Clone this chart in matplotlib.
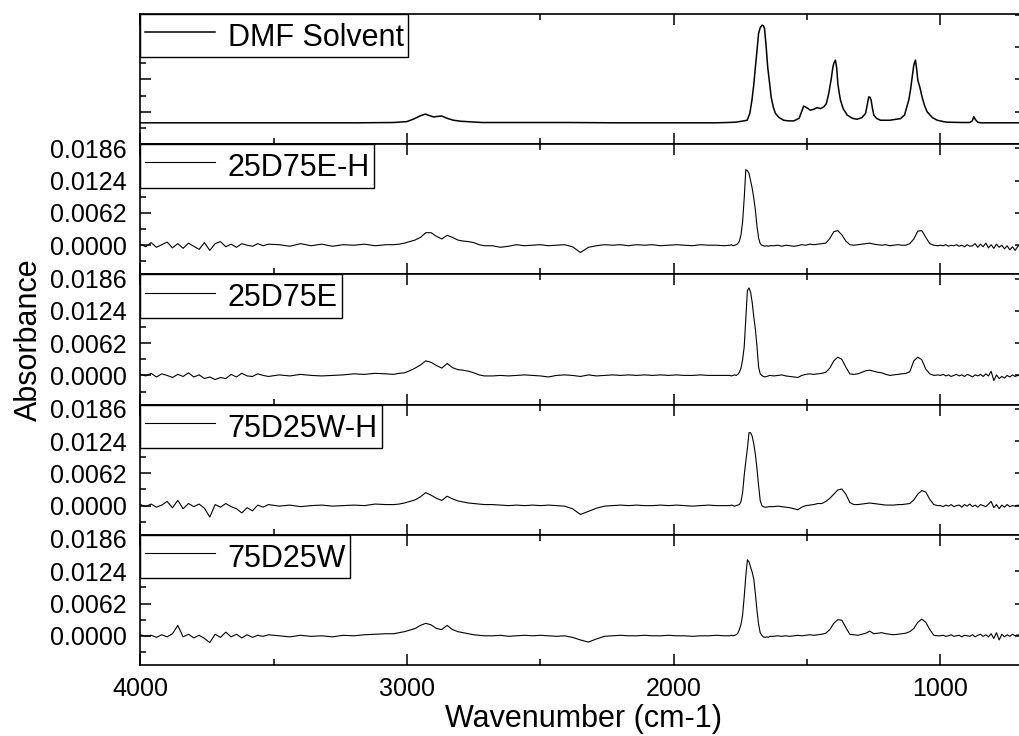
import numpy as np
import matplotlib
matplotlib.use("Agg")
import matplotlib.pyplot as plt
from matplotlib.ticker import MultipleLocator, FixedLocator

plt.rcParams['font.family'] = ['Liberation Sans', 'DejaVu Sans']

# Wavenumber sampling used for the four sample spectra: (start, stop, step) in cm-1
WN_SEGMENTS = [(4000, 3520, 20), (3480, 3080, 40), (3050, 2710, 20), (2680, 1810, 30),
               (1790, 1640, 6), (1625, 1010, 15), (1000, 700, 10)]

# Sample spectra, absorbance in units of 1e-4
ABS_25D75E_H = [
    2, -3, 5, -4, 1, 6, -5, 3, -6, 4, -2, -8, 5, -10, 3, 7, -3, 2, -4, 3, 0, -2, 3, -1, 2,
    1, -2, 3, -1, 2, -2, 1, 0, 2, -1, 1,
    1, 2, 4, 7, 10, 15, 24, 24, 17, 12, 19, 15, 10, 8, 7, 5, 1, -1,
    -1, -4, -2, 1, -1, 0, 1, -1, 0, 1, -3, -14, -4, -1, 1, 0, 1, -1, 1, 0,
    1, -1, 0, 1, 0, -1, 1, 0, 0, -1,
    0, 1, -1, 0, 1, 3, 8, 20, 45, 90, 145, 143, 138, 124, 109, 90, 67, 36, 14, 3,
    0, -1, -2, -1, -2, -1,
    -1, 0, -2, 0, -1, -2, -1, 1, 0, 2, 1, 2, 3, 4, 13, 26, 28, 20, 8, 1,
    0, 1, 2, 3, 4, 2, 1, 0, 1, -1, 0, 1, 0, 0, 3, 12, 27, 28, 15, 3, 0, -1,
    0, -1, 1, -2, 0, -1, 1, -2, 0, -3, 1, -2, -1, 3, -4, 2, -3, 4, -5, 1,
    -6, 2, -4, 0, -7, -1, -9, -3, -10, -2, 1,
]
ABS_25D75E = [
    2, -1, 4, -3, 3, 0, -4, 2, -2, 5, -3, 1, -6, -3, -8, -4, -6, 2, -3, 4, -1, -2, 3, 0, -2,
    1, -1, 2, 0, -1, 0, 1, 3, 2, 4, 3,
    2, 4, 5, 9, 14, 20, 28, 25, 19, 14, 23, 15, 11, 10, 8, 5, 1, -1,
    -1, 0, -1, 0, 1, 0, -1, -3, 0, 1, 0, -2, 1, -1, 0, 1, 0, 1, 0, 1,
    0, 1, 0, 1, 0, 0, 1, 0, 0, 0,
    0, -1, 0, 1, 0, 2, 6, 14, 30, 55, 110, 163, 168, 160, 140, 112, 88, 55, 16, 3,
    0, -2, -3, -2, -1, 0,
    -1, 0, 1, -1, -2, -3, -4, 0, 2, 3, 2, 3, 4, 6, 14, 28, 35, 31, 16, 3,
    2, 3, 6, 9, 10, 8, 6, 5, 2, 0, 1, 2, 3, 4, 7, 28, 35, 30, 12, 3, 0, 1,
    0, 2, -1, 1, -2, 0, 2, -1, 1, -2, 2, 0, -3, 1, -1, 2, -2, 3, -1, 8,
    -10, 1, -6, -2, -5, 0, -3, 1, -2, 0, -1,
]
ABS_75D25W_H = [
    2, -2, 3, -3, 1, 8, -4, 10, -6, 4, -2, 3, -5, -22, 2, -3, 4, -2, -6, -14, -4, -10, 1, -3, 2,
    -1, 1, -2, 0, 1, -1, 0, 1, 0, 3, 2,
    2, 3, 5, 8, 11, 17, 25, 20, 14, 10, 18, 13, 9, 7, 5, 4, 3, 2,
    2, 1, 0, 1, 0, 1, 0, 1, 0, -1, -6, -17, -11, -5, -1, 0, 1, 0, 1, 0,
    0, 1, 0, 1, 0, -1, 0, 1, 0, 0,
    0, 1, 0, -1, 0, 1, 2, 8, 25, 58, 85, 110, 140, 140, 133, 118, 98, 70, 38, 10,
    0, -2, -3, -3, -2, -2,
    -2, -1, -2, -3, -4, -6, -8, -3, 0, 1, 2, 4, 4, 8, 14, 22, 30, 32, 22, 6,
    2, 2, 3, 4, 5, 4, 3, 2, 1, 1, 1, 2, 2, 3, 4, 11, 22, 29, 26, 12, 2, 0,
    0, -2, 1, -1, 2, -2, 0, 1, -3, 2, -1, 3, -2, 1, -3, 2, 0, -2, 3, 8,
    -4, 2, -6, 1, -3, 2, -2, 0, -1, 1, 0,
]
ABS_75D25W = [
    2, -1, 1, -3, 2, -2, 4, 20, -2, 3, -4, 1, -5, -13, 3, -3, 7, -2, 3, -4, 2, -3, 1, -1, 2,
    0, -2, 1, -1, 0, -2, 1, 0, 2, 3, 4,
    4, 6, 8, 11, 14, 20, 24, 21, 14, 12, 20, 12, 8, 6, 4, 2, 1, 0,
    0, 1, -1, 0, 1, 0, 1, 0, -1, 0, -3, -8, -12, -6, -1, 0, 1, 0, 0, 1,
    0, 0, 1, 0, 0, -1, 0, 0, 1, 0,
    0, 1, 0, 1, 2, 5, 12, 22, 40, 75, 115, 146, 142, 132, 122, 109, 80, 48, 22, 6,
    1, -2, -3, -2, -3, -1,
    -1, 0, -1, 0, -1, 0, 1, 0, 1, 2, 1, 2, 3, 5, 12, 24, 31, 30, 16, 3,
    2, 1, 3, 5, 9, 4, 5, 6, 4, 3, 2, 3, 4, 5, 8, 14, 26, 32, 26, 12, 1, 0,
    0, 1, -1, 0, 2, -1, 0, 1, -2, 1, 0, -1, 2, -2, 1, 3, -1, 2, -2, 4,
    -5, 6, -8, 3, -2, 2, -1, 3, 0, 2, 1,
]

# DMF solvent reference spectrum (own, unlabelled intensity scale)
DMF_WN = [4000, 3600, 3200, 3050, 3000, 2975, 2950, 2932, 2915, 2900,
          2885, 2870, 2850, 2826, 2800, 2760, 2720, 2600, 2400, 2200,
          2000, 1850, 1800, 1769, 1745, 1725, 1715, 1707, 1700, 1694,
          1688, 1682, 1676, 1669, 1664, 1660, 1654, 1648, 1641, 1635,
          1627, 1619, 1605, 1588, 1570, 1550, 1530, 1513, 1500, 1488,
          1475, 1463, 1450, 1438, 1428, 1419, 1410, 1404, 1400, 1394,
          1389, 1385, 1380, 1375, 1365, 1350, 1330, 1313, 1295, 1281,
          1275, 1269, 1264, 1260, 1255, 1250, 1240, 1225, 1190, 1150,
          1135, 1119, 1112, 1106, 1100, 1094, 1089, 1085, 1077, 1069,
          1060, 1050, 1030, 1012, 990, 975, 920, 890, 881, 875,
          869, 860, 850, 800, 700]
DMF_ABS = [0.66, 0.66, 0.66, 0.67, 0.70, 0.78, 0.88, 0.93, 0.88, 0.84,
           0.86, 0.87, 0.80, 0.74, 0.71, 0.69, 0.67, 0.67, 0.67, 0.66,
           0.66, 0.66, 0.67, 0.68, 0.71, 0.74, 0.95, 1.36, 1.85, 2.39,
           2.90, 3.43, 3.60, 3.68, 3.66, 3.58, 3.05, 2.39, 1.90, 1.46,
           1.15, 0.95, 0.82, 0.74, 0.72, 0.72, 0.80, 1.18, 1.12, 1.05,
           1.08, 1.13, 1.10, 1.15, 1.25, 1.57, 2.00, 2.35, 2.50, 2.60,
           2.35, 1.88, 1.60, 1.36, 1.10, 0.90, 0.80, 0.77, 0.82, 0.95,
           1.20, 1.46, 1.45, 1.36, 1.10, 0.90, 0.80, 0.74, 0.74, 0.79,
           0.90, 1.36, 1.70, 2.08, 2.45, 2.60, 2.30, 1.98, 1.75, 1.46,
           1.20, 1.00, 0.82, 0.74, 0.70, 0.68, 0.67, 0.67, 0.72, 0.85,
           0.76, 0.68, 0.66, 0.66, 0.66]

SAMPLE_LABELS = ["25D75E-H", "25D75E", "75D25W-H", "75D25W"]
Y_TICKS = [0.0000, 0.0062, 0.0124, 0.0186]


def build_wavenumbers():
    return np.concatenate([np.arange(a, b - 1, -s) for a, b, s in WN_SEGMENTS])


def style_axis(ax):
    ax.tick_params(which='both', direction='in', top=True, right=True, width=1.1)
    ax.tick_params(which='major', length=8)
    ax.tick_params(which='minor', length=4)
    ax.tick_params(axis='y', labelsize=18, pad=10)
    ax.tick_params(axis='x', labelsize=18, pad=9)
    for sp in ax.spines.values():
        sp.set_linewidth(1.2)


def add_legend(ax):
    leg = ax.legend(loc='upper left', borderaxespad=0, fontsize=22, fancybox=False,
                    edgecolor='black', framealpha=1, borderpad=0.15,
                    handlelength=2.3, handletextpad=0.4, handleheight=1.35)
    leg.get_frame().set_linewidth(1.0)


def main():
    wn = build_wavenumbers()
    samples = [ABS_25D75E_H, ABS_25D75E, ABS_75D25W_H, ABS_75D25W]

    fig, axes = plt.subplots(5, 1, sharex=True, figsize=(10.2, 7.36), dpi=100)
    fig.subplots_adjust(left=0.1377, right=1.0057, top=0.981, bottom=0.0965, hspace=0)

    # DMF solvent panel, no tick labels on y
    ax = axes[0]
    ax.plot(DMF_WN, DMF_ABS, color='black', lw=1.1, label='DMF Solvent')
    ax.set_ylim(0, 4.025)
    ax.yaxis.set_major_locator(MultipleLocator(1))
    ax.yaxis.set_minor_locator(MultipleLocator(0.5))
    ax.set_yticklabels([])
    style_axis(ax)
    add_legend(ax)

    for ax, vals, label in zip(axes[1:], samples, SAMPLE_LABELS):
        ax.plot(wn, np.array(vals) * 1e-4, color='black', lw=0.8, label=label)
        ax.set_ylim(-0.0056, 0.0194)
        ax.yaxis.set_major_locator(FixedLocator(Y_TICKS))
        ax.yaxis.set_minor_locator(MultipleLocator(0.0031))
        ax.yaxis.set_major_formatter(lambda v, pos: f"{v:.4f}")
        style_axis(ax)
        add_legend(ax)

    axes[-1].set_xlim(4000, 680)
    axes[-1].xaxis.set_major_locator(MultipleLocator(1000))
    axes[-1].xaxis.set_minor_locator(MultipleLocator(500))
    axes[-1].set_xlabel("Wavenumber (cm-1)", fontsize=22, labelpad=2)
    fig.text(0.028, 0.5386, "Absorbance", rotation=90, ha='center', va='center', fontsize=22)

    fig.savefig("out.png", dpi=100)


if __name__ == "__main__":
    main()
